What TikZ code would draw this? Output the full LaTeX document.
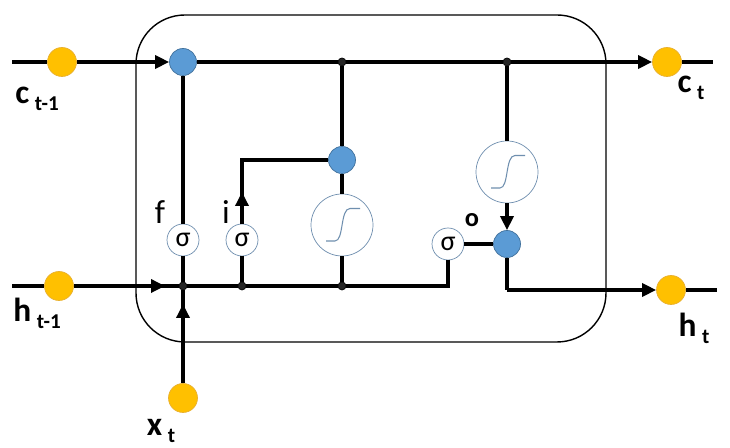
\documentclass[tikz,border=0pt]{standalone}
\usepackage{fontspec}
\setmainfont{Carlito}
\usetikzlibrary{arrows.meta,calc}
\definecolor{inyellow}{HTML}{FFC000}
\definecolor{inyelline}{HTML}{E8B030}
\definecolor{opblue}{HTML}{5B9BD5}
\definecolor{opbline}{HTML}{41719C}
\definecolor{gateline}{HTML}{6F8FAF}
\newcommand{\sublbl}[2]{\textbf{#1}\,\raisebox{-0.45ex}{\fontsize{12}{14}\selectfont\bfseries #2}}
\tikzset{
  ionode/.style={draw=inyelline, circle, fill=inyellow, minimum size=0.58cm, inner sep=0pt},
  mulnode/.style={draw=opbline, circle, fill=opblue, minimum size=0.54cm, inner sep=0pt},
  dotn/.style={draw, circle, fill=black!85, minimum size=0.16cm, inner sep=0pt},
  sigbox/.style={draw=gateline, circle, fill=white, minimum size=0.64cm, inner sep=0pt, font=\fontsize{16}{16}\selectfont},
  tanhbox/.style={draw=gateline, circle, fill=white, minimum size=1.24cm, inner sep=0pt},
  wire/.style={line width=1.9pt},
  awire/.style={line width=1.9pt, -{Triangle[length=2.8mm,width=2.6mm]}},
  lbl/.style={font=\fontsize{19}{21}\selectfont},
}
\begin{document}
\begin{tikzpicture}[x=1cm, y=1cm]
  \useasboundingbox (0,0) rectangle (14.6,8.96);
  % cell
  \draw[line width=0.8pt, rounded corners=0.98cm] (2.72,2.12) rectangle (12.12,8.66);

  % inputs and outputs
  \coordinate (cin) at (0.24,7.72);
  \coordinate (hin) at (0.24,3.24);
  \coordinate (cout) at (14.26,7.72);
  \coordinate (hout) at (14.34,3.16);
  \node[ionode] (ct1) at (1.24,7.72) {};
  \node[ionode] (ht1) at (1.18,3.24) {};
  \node[ionode] (xt) at (3.66,1.0) {};
  \node[ionode] (ct) at (13.34,7.72) {};
  \node[ionode] (ht) at (13.42,3.16) {};

  % operators
  \node[mulnode] (mf) at (3.66,7.72) {};
  \node[mulnode] (mi) at (6.84,5.76) {};
  \node[mulnode] (mo) at (10.14,4.08) {};
  \node[dotn] (jc1) at (6.84,7.72) {};
  \node[dotn] (jc2) at (10.14,7.72) {};
  \node[dotn] (jh1) at (3.66,3.24) {};
  \node[dotn] (jh2) at (4.84,3.24) {};
  \node[dotn] (jh3) at (6.84,3.24) {};
  \coordinate (ho) at (8.96,3.24);
  \coordinate (iup) at (4.84,5.76);
  \coordinate (hdown) at (10.14,3.16);

  % gates
  \node[sigbox] (sf) at (3.66,4.16) {σ};
  \node[sigbox] (si) at (4.84,4.16) {σ};
  \node[sigbox] (so) at (8.96,4.08) {σ};
  \node[tanhbox] (tc) at (6.84,4.46) {};
  \node[tanhbox] (th) at (10.14,5.52) {};
  \foreach \t in {tc,th} {
    \draw[gateline, line width=0.6pt] ($(\t)+(-0.32,-0.32)$) -- ($(\t)+(-0.14,-0.32)$)
      .. controls ($(\t)+(0.04,-0.32)$) and ($(\t)+(-0.04,0.33)$) .. ($(\t)+(0.16,0.33)$)
      -- ($(\t)+(0.36,0.33)$);
  }

  % cell state
  \draw[wire] (cin) -- (ct1);
  \draw[awire] (ct1) -- (mf);
  \draw[wire] (mf) -- (jc1) -- (jc2);
  \draw[awire] (jc2) -- (ct);
  \draw[wire] (ct) -- (cout);

  % hidden state and input
  \draw[wire] (hin) -- (ht1);
  \draw[wire] (ht1) -- (jh1);
  \draw[awire] (ht1) -- ($(jh1)+(-0.36,0)$);
  \draw[wire] (xt) -- (jh1);
  \draw[awire] (xt) -- ($(jh1)+(0,-0.36)$);
  \draw[wire] (jh1) -- (jh2) -- (jh3) -- (ho) -- (so);

  % gate wiring
  \draw[wire] (jh1) -- (sf);
  \draw[wire] (sf) -- (mf);
  \draw[wire] (jh2) -- (si);
  \draw[awire] (si) -- ($(si)+(0,0.96)$);
  \draw[wire] (si) -- (iup) -- (mi);
  \draw[wire] (jh3) -- (tc);
  \draw[wire] (tc) -- (mi);
  \draw[wire] (mi) -- (jc1);
  \draw[wire] (jc2) -- (th);
  \draw[awire] (th) -- (mo);
  \draw[wire] (so) -- (mo);
  \draw[wire] (mo) -- (hdown);
  \draw[awire] (hdown) -- (ht);
  \draw[wire] (ht) -- (hout);

  % labels
  \node[lbl] (lct1) at (0.74,6.98) {\sublbl{c}{t-1}};
  \node[lbl] (lct) at (13.82,7.2) {\sublbl{c}{t}};
  \node[lbl] (lht1) at (0.74,2.7) {\sublbl{h}{t-1}};
  \node[lbl] (lht) at (13.88,2.4) {\sublbl{h}{t}};
  \node[lbl] (lxt) at (3.22,0.34) {\sublbl{x}{t}};
  \node[lbl] (lf) at (3.2,4.72) {f};
  \node[lbl] (li) at (4.52,4.72) {i};
  \node[font=\fontsize{15}{15}\selectfont\bfseries] (lo) at (9.44,4.56) {o};
\end{tikzpicture}
\end{document}
